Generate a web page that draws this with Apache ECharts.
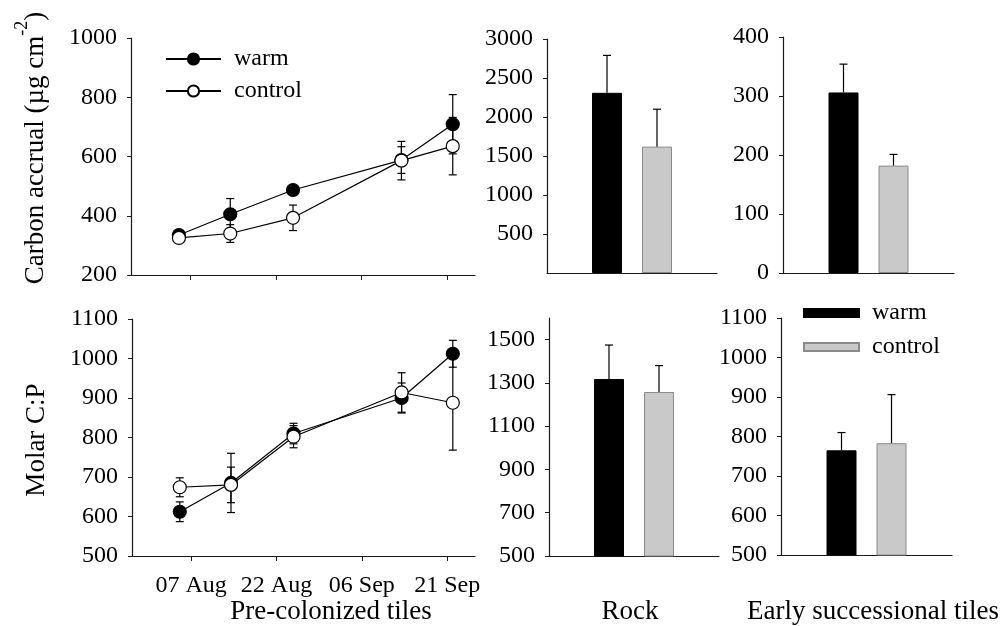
<!DOCTYPE html>
<html>
<head>
<meta charset="utf-8">
<script src="https://cdn.jsdelivr.net/npm/echarts@6/dist/echarts.min.js"></script>
<style>
html,body{margin:0;padding:0;background:#fff;}
#chart{width:1007px;height:626px;}
</style>
</head>
<body>
<div id="chart"></div>
<script>
// ---------- data ----------
// sampling dates, as days after 07 Aug
const sampleDays = [-2, 7, 18, 37, 46];
const dateTickValues = [0, 15, 30, 45];
const dateTickLabels = ['07 Aug', '22 Aug', '06 Sep', '21 Sep'];

// Pre-colonized tiles: carbon accrual (µg cm-2)
const carbonWarm = [335, 405, 487, 588, 709];
const carbonWarmErr = [8, 53, 8, 45, 100];
const carbonControl = [325, 340, 393, 586, 635];
const carbonControlErr = [8, 30, 43, 65, 97];

// Pre-colonized tiles: molar C:P
const cpWarm = [612, 685, 810, 900, 1012];
const cpWarmErr = [25, 75, 26, 38, 34];
const cpControl = [674, 680, 802, 914, 888];
const cpControlErr = [24, 45, 28, 50, 120];

// Rock and early successional tiles (warm, control)
const rockCarbon = [2310, 1620];
const rockCarbonErr = [480, 480];
const earlyCarbon = [306, 182];
const earlyCarbonErr = [48, 19];
const rockCP = [1318, 1258];
const rockCPErr = [157, 122];
const earlyCP = [765, 783];
const earlyCPErr = [45, 123];

const treatments = ['warm', 'control'];

// ---------- style ----------
const FONT = 'Liberation Serif';
const TICK_FS = 24;
const TITLE_FS = 27;
const AX = '#1a1a1a';
const BAR_W = 30;
const BAR_GAP = 20;
const CONTROL_FILL = '#c9c9c9';

const chart = echarts.init(document.getElementById('chart'), null, {renderer: 'canvas'});

function labelCfg(extra) {
  return Object.assign({color: '#000', fontFamily: FONT, fontSize: TICK_FS, margin: 14,
    formatter: v => String(v)}, extra || {});
}

function yAxisCfg(gridIndex, min, max, interval, labelExtra) {
  return {
    type: 'value', gridIndex, min, max, interval,
    axisLine: {show: true, onZero: false, lineStyle: {color: AX, width: 1.2}},
    axisTick: {show: true, length: 4, inside: false, lineStyle: {color: AX}},
    splitLine: {show: false},
    axisLabel: labelCfg(labelExtra)
  };
}

function dateAxis(gridIndex, showLabels) {
  return {
    type: 'value', gridIndex, min: -10.4, max: 49.9,
    axisLine: {show: true, onZero: false, lineStyle: {color: AX, width: 1.2}},
    axisTick: {show: true, length: 5, customValues: dateTickValues, lineStyle: {color: AX}},
    splitLine: {show: false},
    axisLabel: {
      show: showLabels, customValues: dateTickValues,
      color: '#000', fontFamily: FONT, fontSize: TICK_FS, margin: 18,
      formatter: v => dateTickLabels[dateTickValues.indexOf(v)] || ''
    }
  };
}

function catAxis(gridIndex) {
  return {
    type: 'category', gridIndex, data: [''],
    axisLine: {show: true, onZero: false, lineStyle: {color: AX, width: 1.2}},
    axisTick: {show: false}, axisLabel: {show: false}, splitLine: {show: false}
  };
}

function errLineRender(params, api) {
  const x = api.value(0), y = api.value(1), e = api.value(2);
  const hi = api.coord([x, y + e]);
  const lo = api.coord([x, y - e]);
  const w = 4;
  const st = {stroke: '#000', lineWidth: 1.2};
  return {type: 'group', children: [
    {type: 'line', shape: {x1: hi[0], y1: hi[1], x2: lo[0], y2: lo[1]}, style: st},
    {type: 'line', shape: {x1: hi[0] - w, y1: hi[1], x2: hi[0] + w, y2: hi[1]}, style: st},
    {type: 'line', shape: {x1: lo[0] - w, y1: lo[1], x2: lo[0] + w, y2: lo[1]}, style: st}
  ]};
}

function errBarRender(params, api) {
  const i = api.value(0); // 0 warm, 1 control
  const v = api.value(1), e = api.value(2);
  const base = api.coord([0, v]);
  const top = api.coord([0, v + e]);
  const dx = (i === 0 ? -1 : 1) * (BAR_W + BAR_GAP) / 2;
  const x = base[0] + dx;
  const w = 4;
  const st = {stroke: '#000', lineWidth: 1.2};
  return {type: 'group', children: [
    {type: 'line', shape: {x1: x, y1: base[1], x2: x, y2: top[1]}, style: st},
    {type: 'line', shape: {x1: x - w, y1: top[1], x2: x + w, y2: top[1]}, style: st}
  ]};
}

function lineSeries(name, gi, vals, filled) {
  return {
    name, type: 'line', xAxisIndex: gi, yAxisIndex: gi, z: 5,
    data: sampleDays.map((d, i) => [d, vals[i]]),
    symbol: 'circle', symbolSize: 13,
    lineStyle: {color: '#000', width: 1.2},
    itemStyle: {color: filled ? '#000' : '#fff', borderColor: '#000', borderWidth: 1.2},
    emphasis: {disabled: true}, animation: false
  };
}
function errSeries(gi, vals, errs) {
  return {
    type: 'custom', xAxisIndex: gi, yAxisIndex: gi, z: 3,
    data: sampleDays.map((d, i) => [d, vals[i], errs[i]]),
    renderItem: errLineRender, silent: true, animation: false
  };
}
function barSeries(gi, vals) {
  return [
    {name: 'warm ', type: 'bar', xAxisIndex: gi, yAxisIndex: gi, data: [vals[0]],
     barWidth: BAR_W, barGap: (BAR_GAP / BAR_W * 100) + '%',
     itemStyle: {color: '#000', borderColor: '#000', borderWidth: 1}, animation: false, z: 2},
    {name: 'control ', type: 'bar', xAxisIndex: gi, yAxisIndex: gi, data: [vals[1]],
     barWidth: BAR_W, barGap: (BAR_GAP / BAR_W * 100) + '%',
     itemStyle: {color: CONTROL_FILL, borderColor: '#8a8a8a', borderWidth: 1}, animation: false, z: 2}
  ];
}
function barErrSeries(gi, vals, errs) {
  return {
    type: 'custom', xAxisIndex: gi, yAxisIndex: gi, z: 3,
    data: treatments.map((t, i) => [i, vals[i], errs[i]]),
    renderItem: errBarRender, silent: true, animation: false
  };
}

const option = {
  backgroundColor: '#fff',
  animation: false,
  grid: [
    {left: 131, top: 38, width: 344, height: 237},   // 0 carbon pre-colonized
    {left: 132, top: 319, width: 343, height: 237},  // 1 C:P pre-colonized
    {left: 547, top: 39, width: 170, height: 234},   // 2 carbon rock
    {left: 783, top: 37, width: 171, height: 236},   // 3 carbon early
    {left: 549, top: 318, width: 170, height: 238},  // 4 C:P rock
    {left: 781, top: 318, width: 171, height: 237}   // 5 C:P early
  ],
  xAxis: [
    dateAxis(0, false), dateAxis(1, true),
    catAxis(2), catAxis(3), catAxis(4), catAxis(5)
  ],
  yAxis: [
    yAxisCfg(0, 200, 1000, 200),
    yAxisCfg(1, 500, 1100, 100),
    yAxisCfg(2, 0, 3000, 500, {showMinLabel: false}),
    yAxisCfg(3, 0, 400, 100),
    yAxisCfg(4, 500, 1600, 200, {showMaxLabel: false}),
    yAxisCfg(5, 500, 1100, 100)
  ],
  legend: [
    {
      data: treatments, left: 165, top: 47, orient: 'vertical', padding: 0,
      itemWidth: 55, itemHeight: 14, itemGap: 8, selectedMode: false,
      textStyle: {fontFamily: FONT, fontSize: TICK_FS, color: '#000', padding: [0, 0, 0, 8]}
    },
    {
      data: treatments.map(t => t + ' '), left: 803, top: 301, orient: 'vertical', padding: 0,
      icon: 'rect', itemWidth: 55, itemHeight: 8, itemGap: 10, selectedMode: false,
      formatter: n => n.trim(),
      textStyle: {fontFamily: FONT, fontSize: TICK_FS, color: '#000', padding: [0, 0, 0, 8]}
    }
  ],
  graphic: [
    {type: 'text', x: 31, y: 148, rotation: Math.PI / 2,
     style: {text: '{a|Carbon accrual (µg cm}{s|-2}{a|)}', align: 'center', verticalAlign: 'middle',
       rich: {a: {fontFamily: FONT, fontSize: TITLE_FS, fill: '#000', lineHeight: 36, verticalAlign: 'bottom'},
              s: {fontFamily: FONT, fontSize: 18, fill: '#000', lineHeight: 18, verticalAlign: 'top'}}}},
    {type: 'text', x: 37, y: 440, rotation: Math.PI / 2,
     style: {text: 'Molar C:P', fontFamily: FONT, fontSize: TITLE_FS, fill: '#000', align: 'center', verticalAlign: 'middle'}},
    {type: 'text', x: 331, y: 612,
     style: {text: 'Pre-colonized tiles', fontFamily: FONT, fontSize: TITLE_FS, fill: '#000', align: 'center', verticalAlign: 'middle'}},
    {type: 'text', x: 630, y: 612,
     style: {text: 'Rock', fontFamily: FONT, fontSize: TITLE_FS, fill: '#000', align: 'center', verticalAlign: 'middle'}},
    {type: 'text', x: 873, y: 612,
     style: {text: 'Early successional tiles', fontFamily: FONT, fontSize: TITLE_FS, fill: '#000', align: 'center', verticalAlign: 'middle'}}
  ],
  series: [
    errSeries(0, carbonWarm, carbonWarmErr),
    errSeries(0, carbonControl, carbonControlErr),
    lineSeries('warm', 0, carbonWarm, true),
    lineSeries('control', 0, carbonControl, false),
    errSeries(1, cpWarm, cpWarmErr),
    errSeries(1, cpControl, cpControlErr),
    lineSeries('warm', 1, cpWarm, true),
    lineSeries('control', 1, cpControl, false),
    ...barSeries(2, rockCarbon), barErrSeries(2, rockCarbon, rockCarbonErr),
    ...barSeries(3, earlyCarbon), barErrSeries(3, earlyCarbon, earlyCarbonErr),
    ...barSeries(4, rockCP), barErrSeries(4, rockCP, rockCPErr),
    ...barSeries(5, earlyCP), barErrSeries(5, earlyCP, earlyCPErr)
  ]
};
chart.setOption(option);
</script>
</body>
</html>
